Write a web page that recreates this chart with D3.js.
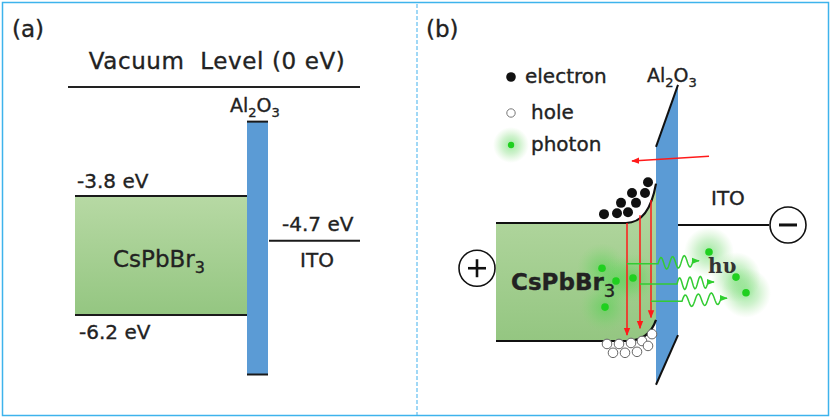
<!DOCTYPE html>
<html>
<head>
<meta charset="utf-8">
<script src="https://cdn.jsdelivr.net/npm/d3@7"></script>
<style>
  html, body { margin: 0; padding: 0; background: #fff; }
  text { font-family: "DejaVu Sans", sans-serif; fill: #222; stroke: #222; stroke-width: 0.35; }
</style>
</head>
<body>
<div id="chart"></div>
<script>
// ---- data ----
// panel (a): band levels in eV
const levelNames = ['CsPbBr3 CB', 'CsPbBr3 VB', 'ITO']
const levelValues = [-3.8, -6.2, -4.7]
const levelLabels = ['-3.8 eV', '-6.2 eV', '-4.7 eV']
const al2o3Levels = [-2.3, -7.4]
const vacuumLabel = 'Vacuum  Level (0 eV)'

// panel (b): schematic, x = distance units from left edge of CsPbBr3, y = energy (eV)
const cbBend = [-3.8, -3.0]          // bulk -> interface
const vbBend = [-6.2, -5.77]
const bendStart = 130
const interfaceX = 160
const al2o3Shape = [[160, -2.25], [182, -0.99], [182, -6.08], [160, -7.09]]
const itoLevelB = -3.84
const electrons = [[108, -3.62], [121, -3.60], [132, -3.58], [125, -3.39], [140, -3.39],
  [136, -3.19], [149, -3.19], [152, -2.97]]
const holes = [[111, -6.26], [123, -6.26], [135, -6.24], [146, -6.20], [156, -6.06],
  [117, -6.44], [129, -6.44], [141, -6.42], [152, -6.30]]
const photonsIn = [[106, -4.72], [120, -4.98], [109, -5.51], [137, -4.92]]
const photonsOut = [[213, -4.39], [240, -4.90], [250, -5.22]]
const recombX = [131, 144, 155]
const recombTop = [-3.80, -3.64, -3.33]
const recombBottom = [-6.08, -5.94, -5.72]
const emitE = [-4.63, -5.04, -5.39]
const emitWaveStart = [162, 181, 186]
const emitTipX = [203, 218, 231]
const emitTipE = [-4.57, -5.00, -5.33]
const fieldArrow = [[213, -2.44], [136, -2.54]]
const legendItems = ['electron', 'hole', 'photon']

// ---- canvas ----
const width = 831,
  height = 418

let svg = d3.select('#chart')
  .append('svg')
  .attr('width', width)
  .attr('height', height)

let defs = svg.append('defs')

let grad = defs.append('linearGradient')
  .attr('id', 'green')
  .attr('x1', 0).attr('y1', 0).attr('x2', 0).attr('y2', 1)
grad.append('stop').attr('offset', '0%').attr('stop-color', '#b7d9a4')
grad.append('stop').attr('offset', '100%').attr('stop-color', '#94c681')

let glow = defs.append('radialGradient').attr('id', 'glow')
glow.append('stop').attr('offset', '0%').attr('stop-color', '#3fd43f').attr('stop-opacity', 0.5)
glow.append('stop').attr('offset', '50%').attr('stop-color', '#5fd45a').attr('stop-opacity', 0.3)
glow.append('stop').attr('offset', '100%').attr('stop-color', '#7fd870').attr('stop-opacity', 0)

let marker = (id, color, size) => {
  defs.append('marker')
    .attr('id', id)
    .attr('viewBox', '0 0 10 10')
    .attr('refX', 9).attr('refY', 5)
    .attr('markerWidth', size).attr('markerHeight', size)
    .attr('markerUnits', 'userSpaceOnUse')
    .attr('orient', 'auto')
    .append('path')
    .attr('d', 'M0,1 L10,5 L0,9 Z')
    .attr('fill', color)
}
marker('redHead', '#ff1a1a', 8)
marker('greenHead', '#2fcf2f', 8)

// frame and divider
svg.append('rect')
  .attr('x', 2.5).attr('y', 2.5)
  .attr('width', 826).attr('height', 413)
  .attr('fill', 'none')
  .attr('stroke', '#3db3ec')
  .attr('stroke-width', 1.5)

svg.append('line')
  .attr('x1', 417).attr('x2', 417)
  .attr('y1', 4).attr('y2', 415)
  .attr('stroke', '#62bff0')
  .attr('stroke-width', 1.2)
  .attr('stroke-dasharray', '4,2')

// ================= panel (a) =================
const yA = d3.scaleLinear()
  .domain([levelValues[0], levelValues[1]])
  .range([196, 315])

let a = svg.append('g')

a.append('text').attr('x', 12).attr('y', 37)
  .attr('font-size', 23).text('(a)')

a.append('text')
  .attr('x', 217).attr('y', 69)
  .attr('text-anchor', 'middle')
  .attr('font-size', 23)
  .attr('letter-spacing', 0.6)
  .style('white-space', 'pre')
  .text(vacuumLabel)

a.append('line')
  .attr('x1', 68).attr('x2', 360)
  .attr('y1', 87).attr('y2', 87)
  .attr('stroke', '#222').attr('stroke-width', 2)

// CsPbBr3 block
a.append('rect')
  .attr('x', 75).attr('width', 247 - 75)
  .attr('y', yA(levelValues[0]))
  .attr('height', yA(levelValues[1]) - yA(levelValues[0]))
  .attr('fill', 'url(#green)')

a.selectAll('.lvl')
  .data([0, 1])
  .enter()
  .append('line')
  .attr('class', 'lvl')
  .attr('x1', 75).attr('x2', 247)
  .attr('y1', i => yA(levelValues[i]))
  .attr('y2', i => yA(levelValues[i]))
  .attr('stroke', '#1a1a1a').attr('stroke-width', 2.2)

a.append('text').attr('x', 77).attr('y', yA(levelValues[0]) - 8)
  .attr('font-size', 20).text(levelLabels[0])
a.append('text').attr('x', 79).attr('y', yA(levelValues[1]) + 24)
  .attr('font-size', 20).text(levelLabels[1])

let csA = a.append('text').attr('x', 113).attr('y', 267).attr('font-size', 23)
csA.append('tspan').text('CsPbBr')
csA.append('tspan').attr('font-size', 16).attr('dy', 6).text('3')

// Al2O3 bar
a.append('rect')
  .attr('x', 247).attr('width', 21)
  .attr('y', yA(al2o3Levels[0]))
  .attr('height', yA(al2o3Levels[1]) - yA(al2o3Levels[0]))
  .attr('fill', '#5b9bd5')

a.selectAll('.alcap')
  .data(al2o3Levels)
  .enter()
  .append('line')
  .attr('class', 'alcap')
  .attr('x1', 247).attr('x2', 268)
  .attr('y1', d => yA(d)).attr('y2', d => yA(d))
  .attr('stroke', '#1a1a1a').attr('stroke-width', 2)

let alA = a.append('text').attr('x', 230).attr('y', 112).attr('font-size', 19)
alA.append('tspan').text('Al')
alA.append('tspan').attr('font-size', 13).attr('dy', 5).text('2')
alA.append('tspan').attr('dy', -5).text('O')
alA.append('tspan').attr('font-size', 13).attr('dy', 5).text('3')

// ITO
a.append('line')
  .attr('x1', 269).attr('x2', 360)
  .attr('y1', yA(levelValues[2])).attr('y2', yA(levelValues[2]))
  .attr('stroke', '#1a1a1a').attr('stroke-width', 2)
a.append('text').attr('x', 282).attr('y', yA(levelValues[2]) - 10)
  .attr('font-size', 20).text(levelLabels[2])
a.append('text').attr('x', 317).attr('y', yA(levelValues[2]) + 26)
  .attr('text-anchor', 'middle')
  .attr('font-size', 20).text('ITO')

// ================= panel (b) =================
const xB = d3.scaleLinear().domain([0, interfaceX]).range([496, 656])
const yB = d3.scaleLinear().domain([cbBend[0], vbBend[0]]).range([223, 341])

let b = svg.append('g')

b.append('text').attr('x', 426).attr('y', 37)
  .attr('font-size', 23).text('(b)')

// legend
const legY = [77, 113, 145]
b.append('circle').attr('cx', 511).attr('cy', legY[0]).attr('r', 4.8).attr('fill', '#111')
b.append('circle').attr('cx', 511).attr('cy', legY[1]).attr('r', 4.2)
  .attr('fill', '#fff').attr('stroke', '#777').attr('stroke-width', 1)
b.append('circle').attr('cx', 511).attr('cy', legY[2]).attr('r', 18).attr('fill', 'url(#glow)')
b.append('circle').attr('cx', 511).attr('cy', legY[2]).attr('r', 3.2).attr('fill', '#1fd01f')
b.selectAll('.leg')
  .data(legendItems)
  .enter()
  .append('text')
  .attr('class', 'leg')
  .attr('x', (d, i) => i === 0 ? 525 : 531)
  .attr('y', (d, i) => legY[i] + 6)
  .attr('font-size', 20)
  .text(d => d)

// band geometry
const bandPath = (bend) => {
  let p = d3.path()
  p.moveTo(xB(0), yB(bend[0]))
  p.lineTo(xB(bendStart), yB(bend[0]))
  p.quadraticCurveTo(xB(interfaceX - 7), yB(bend[0]), xB(interfaceX), yB(bend[1]))
  return p
}

let fill = d3.path()
fill.moveTo(xB(0), yB(cbBend[0]))
fill.lineTo(xB(bendStart), yB(cbBend[0]))
fill.quadraticCurveTo(xB(interfaceX - 7), yB(cbBend[0]), xB(interfaceX), yB(cbBend[1]))
fill.lineTo(xB(interfaceX), yB(vbBend[1]))
fill.quadraticCurveTo(xB(interfaceX - 7), yB(vbBend[0]), xB(bendStart), yB(vbBend[0]))
fill.lineTo(xB(0), yB(vbBend[0]))
fill.closePath()

b.append('path').attr('d', fill.toString()).attr('fill', 'url(#green)')

// Al2O3 barrier
const shapeLine = d3.line().x(d => xB(d[0])).y(d => yB(d[1]))
b.append('path')
  .attr('d', shapeLine(al2o3Shape) + 'Z')
  .attr('fill', '#5b9bd5')
b.append('path').attr('d', shapeLine([al2o3Shape[0], al2o3Shape[1]]))
  .attr('stroke', '#111').attr('stroke-width', 2)
b.append('path').attr('d', shapeLine([al2o3Shape[2], al2o3Shape[3]]))
  .attr('stroke', '#111').attr('stroke-width', 2)

let alB = b.append('text').attr('x', 647).attr('y', yB(-0.93)).attr('font-size', 19)
alB.append('tspan').text('Al')
alB.append('tspan').attr('font-size', 13).attr('dy', 5).text('2')
alB.append('tspan').attr('dy', -5).text('O')
alB.append('tspan').attr('font-size', 13).attr('dy', 5).text('3')

// photon glows
b.selectAll('.glow')
  .data(photonsIn.concat(photonsOut))
  .enter()
  .append('circle')
  .attr('class', 'glow')
  .attr('cx', d => xB(d[0])).attr('cy', d => yB(d[1]))
  .attr('r', 25)
  .attr('fill', 'url(#glow)')

let cs = b.append('text').attr('x', 511).attr('y', yB(-5.16))
  .attr('font-size', 23).attr('font-weight', 'bold').attr('stroke-width', 0.2)
cs.append('tspan').text('CsPbBr')
cs.append('tspan').attr('font-size', 18).attr('font-weight', 'normal').attr('dy', 7).text('3')

// band edges
b.append('path').attr('d', bandPath(cbBend).toString())
  .attr('fill', 'none').attr('stroke', '#111').attr('stroke-width', 2.2)
b.append('path').attr('d', bandPath(vbBend).toString())
  .attr('fill', 'none').attr('stroke', '#111').attr('stroke-width', 2.2)

// recombination arrows
b.selectAll('.rec')
  .data(recombX)
  .enter()
  .append('line')
  .attr('class', 'rec')
  .attr('x1', d => xB(d)).attr('x2', d => xB(d))
  .attr('y1', (d, i) => yB(recombTop[i]))
  .attr('y2', (d, i) => yB(recombBottom[i]))
  .attr('stroke', '#ff1a1a').attr('stroke-width', 1.5)
  .attr('marker-end', 'url(#redHead)')

// field arrow
b.append('line')
  .attr('x1', xB(fieldArrow[0][0])).attr('y1', yB(fieldArrow[0][1]))
  .attr('x2', xB(fieldArrow[1][0])).attr('y2', yB(fieldArrow[1][1]))
  .attr('stroke', '#ff1a1a').attr('stroke-width', 1.5)
  .attr('marker-end', 'url(#redHead)')

// emission arrows: straight part then wave
recombX.forEach((x0, i) => {
  let y0 = yB(emitE[i])
  let xs = xB(emitWaveStart[i])
  let xt = xB(emitTipX[i])
  let yt = yB(emitTipE[i])
  let p = d3.path()
  p.moveTo(xB(x0), y0)
  p.lineTo(xs, y0)
  let n = 40
  let len = xt - xs - 6
  for (let k = 1; k <= n; k++) {
    let t = k / n
    let wx = xs + t * len
    let base = y0 + (yt - y0) * t
    p.lineTo(wx, base - 6 * Math.sin(t * Math.PI * 6))
  }
  p.lineTo(xt, yt)
  b.append('path')
    .attr('d', p.toString())
    .attr('fill', 'none')
    .attr('stroke', '#33cc33').attr('stroke-width', 1.5)
    .attr('marker-end', 'url(#greenHead)')
})

// electrons & holes
b.selectAll('.el')
  .data(electrons)
  .enter()
  .append('circle')
  .attr('class', 'el')
  .attr('cx', d => xB(d[0])).attr('cy', d => yB(d[1]))
  .attr('r', 5)
  .attr('fill', '#111')

b.selectAll('.hole')
  .data(holes)
  .enter()
  .append('circle')
  .attr('class', 'hole')
  .attr('cx', d => xB(d[0])).attr('cy', d => yB(d[1]))
  .attr('r', 4.8)
  .attr('fill', '#fff')
  .attr('stroke', '#666').attr('stroke-width', 1)

// photons
b.selectAll('.ph')
  .data(photonsIn.concat(photonsOut))
  .enter()
  .append('circle')
  .attr('class', 'ph')
  .attr('cx', d => xB(d[0])).attr('cy', d => yB(d[1]))
  .attr('r', 3.8)
  .attr('fill', '#1fd01f')

b.append('text').attr('x', xB(212)).attr('y', yB(-4.82))
  .attr('font-size', 20).attr('font-weight', 'bold')
  .style('font-family', '"DejaVu Serif", serif')
  .style('fill', '#333').style('stroke', 'none')
  .text('hυ')

// ITO and electrodes
b.append('line')
  .attr('x1', xB(182)).attr('x2', xB(273))
  .attr('y1', yB(itoLevelB)).attr('y2', yB(itoLevelB))
  .attr('stroke', '#111').attr('stroke-width', 2)
b.append('text').attr('x', xB(215)).attr('y', yB(-3.43))
  .attr('font-size', 20).text('ITO')

let electrode = (cx, cy, sign) => {
  b.append('circle').attr('cx', cx).attr('cy', cy).attr('r', 18)
    .attr('fill', '#fff').attr('stroke', '#111').attr('stroke-width', 1.6)
  b.append('line').attr('x1', cx - 9).attr('x2', cx + 9)
    .attr('y1', cy).attr('y2', cy)
    .attr('stroke', '#111').attr('stroke-width', sign === '+' ? 2.6 : 3)
  if (sign === '+') {
    b.append('line').attr('x1', cx).attr('x2', cx)
      .attr('y1', cy - 9).attr('y2', cy + 9)
      .attr('stroke', '#111').attr('stroke-width', 2.6)
  }
}
electrode(xB(292), yB(itoLevelB), '-')
electrode(xB(-19), yB(-4.72), '+')
</script>
</body>
</html>
